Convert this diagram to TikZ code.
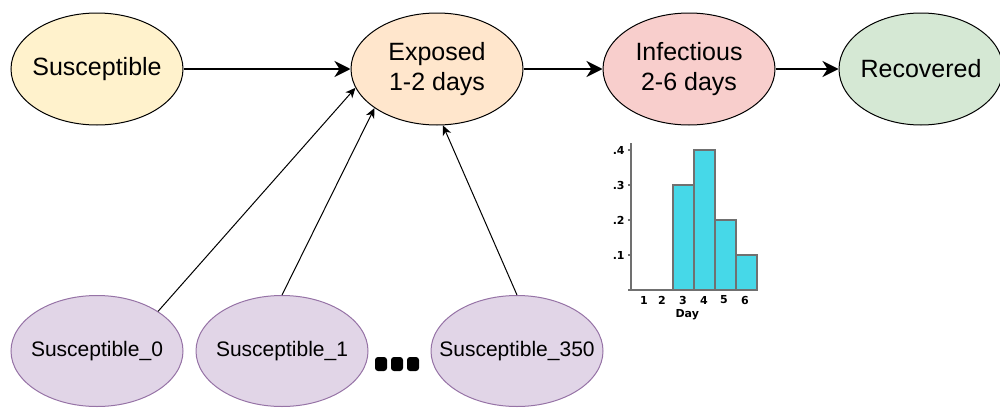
\documentclass[tikz,border=0pt]{standalone}
\usepackage{fontspec}
\setmainfont{Liberation Sans}
\newfontfamily\histfont{DejaVu Sans}
\usepackage{tikz}
\usetikzlibrary{arrows.meta,positioning,shapes.geometric}
\definecolor{amarelo}{HTML}{FFF2CC}
\definecolor{pessego}{HTML}{FFE6CC}
\definecolor{rosa}{HTML}{F8CECC}
\definecolor{verde}{HTML}{D5E8D4}
\definecolor{lilas}{HTML}{E1D5E7}
\definecolor{lilasborda}{HTML}{9673A6}
\definecolor{ciano}{HTML}{46D8E8}
\definecolor{eixocor}{HTML}{707070}

\begin{document}
\begin{tikzpicture}[
    x=0.5pt, y=-0.5pt,
    comp/.style={ellipse, draw, line width=0.5pt, minimum width=86pt, minimum height=56pt, inner xsep=-25pt, inner ysep=0pt, align=center, font=\fontsize{12.5}{15}\selectfont},
    sub/.style={comp, draw=lilasborda, fill=lilas, minimum width=86pt, minimum height=55.5pt, font=\fontsize{10.5}{12}\selectfont},
    fluxo/.style={-{Stealth[length=8pt, width=8pt, inset=2.5pt]}, line width=1.2pt},
    elo/.style={-{Stealth[length=5pt, width=4.5pt, inset=1.5pt]}, line width=0.5pt},
    barra/.style={draw=eixocor, fill=ciano, line width=0.6pt},
    eixo/.style={draw=eixocor, line width=0.6pt},
    rot/.style={inner sep=0pt, font=\histfont\fontsize{5.5}{6}\selectfont\bfseries}
  ]
    \useasboundingbox (0,0) rectangle (1000,407);
    % compartments
    \node[comp, fill=amarelo] (s) at (97,69) {Susceptible};
    \node[comp, fill=pessego, right=83.5pt of s] (e) {Exposed\\1-2 days};
    \node[comp, fill=rosa, right=39.5pt of e] (i) {Infectious\\2-6 days};
    \node[comp, fill=verde, right=31.5pt of i, minimum width=82pt] (r) {Recovered};
    \draw[fluxo] (s) -- (e); \draw[fluxo] (e) -- (i); \draw[fluxo] (i) -- (r);
    % individual susceptibles
    \node[sub] (s0) at (97,351) {Susceptible\_0};
    \node[sub] (s1) at (282,351) {Susceptible\_1};
    \node[sub] (s350) at (517,351) {Susceptible\_350};
    \foreach \xx in {381,397,413}
      \fill[rounded corners=1.5pt] (\xx-6,357) rectangle (\xx+6,371);
    \draw[elo] (s0.33) -- (e.193);
    \draw[elo] (s1.north) -- (e.212);
    \draw[elo] (s350.north) -- (e.276);
    % infectious period histogram
    \foreach \a/\b/\t in {673/694/185, 694/715/150, 715/736/220, 736/757/255}
      \draw[barra] (\a,290) rectangle (\b,\t);
    \draw[eixo] (631,143) -- (631,290) -- (757,290);
    \draw[eixo] (628,290) -- (631,290);
    \foreach \v/\yy [count=\k] in {.1/255,.2/220,.3/185,.4/150} {
      \draw[eixo] (628,\yy) -- (631,\yy);
      \node[rot, anchor=east] (y\k) at (625,\yy) {\v};
    }
    \foreach \d/\xx in {1/644,2/662,3/683,4/704,5/724,6/745}
      \node[rot] (x\d) at (\xx,300) {\d};
    \node[rot, below=2.5pt of x3.south east, anchor=north] (dia) {Day};
  \end{tikzpicture}
\end{document}
